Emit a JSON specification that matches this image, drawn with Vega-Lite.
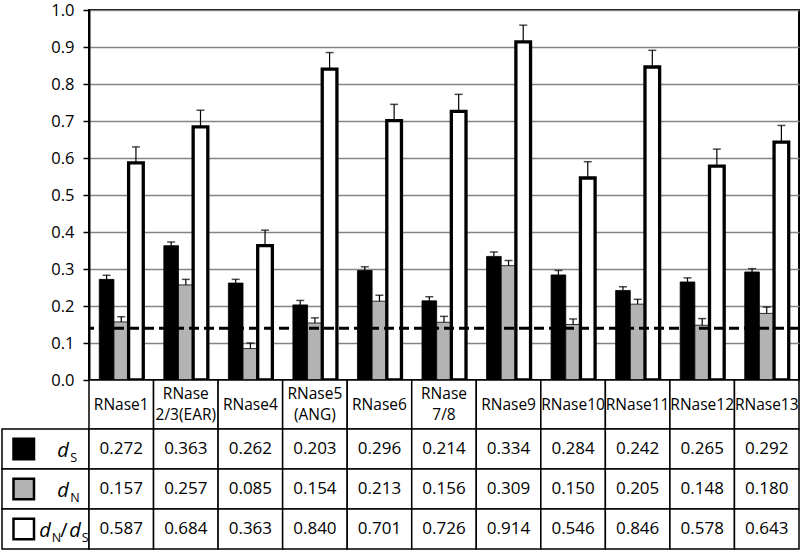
{
  "$schema": "https://vega.github.io/schema/vega-lite/v6.json",
  "padding": {"left": 1, "top": 1, "right": 2, "bottom": 2},
  "columns": 2,
  "spacing": 0,
  "bounds": "flush",
  "align": "each",
  "config": {"view": {"stroke": null}, "font": "Open Sans"},
  "datasets": {
    "vals": [
      {"cat": "RNase1", "ser": "dS", "value": 0.272, "hi": 0.283},
      {"cat": "RNase1", "ser": "dN", "value": 0.157, "hi": 0.171},
      {"cat": "RNase1", "ser": "dN/dS", "value": 0.587, "hi": 0.630},
      {"cat": "RNase\n2/3(EAR)", "ser": "dS", "value": 0.363, "hi": 0.373},
      {"cat": "RNase\n2/3(EAR)", "ser": "dN", "value": 0.257, "hi": 0.272},
      {"cat": "RNase\n2/3(EAR)", "ser": "dN/dS", "value": 0.684, "hi": 0.729},
      {"cat": "RNase4", "ser": "dS", "value": 0.262, "hi": 0.272},
      {"cat": "RNase4", "ser": "dN", "value": 0.085, "hi": 0.100},
      {"cat": "RNase4", "ser": "dN/dS", "value": 0.363, "hi": 0.405},
      {"cat": "RNase5\n(ANG)", "ser": "dS", "value": 0.203, "hi": 0.215},
      {"cat": "RNase5\n(ANG)", "ser": "dN", "value": 0.154, "hi": 0.168},
      {"cat": "RNase5\n(ANG)", "ser": "dN/dS", "value": 0.840, "hi": 0.885},
      {"cat": "RNase6", "ser": "dS", "value": 0.296, "hi": 0.306},
      {"cat": "RNase6", "ser": "dN", "value": 0.213, "hi": 0.229},
      {"cat": "RNase6", "ser": "dN/dS", "value": 0.701, "hi": 0.745},
      {"cat": "RNase\n7/8", "ser": "dS", "value": 0.214, "hi": 0.225},
      {"cat": "RNase\n7/8", "ser": "dN", "value": 0.156, "hi": 0.172},
      {"cat": "RNase\n7/8", "ser": "dN/dS", "value": 0.726, "hi": 0.772},
      {"cat": "RNase9", "ser": "dS", "value": 0.334, "hi": 0.346},
      {"cat": "RNase9", "ser": "dN", "value": 0.309, "hi": 0.323},
      {"cat": "RNase9", "ser": "dN/dS", "value": 0.914, "hi": 0.959},
      {"cat": "RNase10", "ser": "dS", "value": 0.284, "hi": 0.296},
      {"cat": "RNase10", "ser": "dN", "value": 0.150, "hi": 0.165},
      {"cat": "RNase10", "ser": "dN/dS", "value": 0.546, "hi": 0.590},
      {"cat": "RNase11", "ser": "dS", "value": 0.242, "hi": 0.252},
      {"cat": "RNase11", "ser": "dN", "value": 0.205, "hi": 0.218},
      {"cat": "RNase11", "ser": "dN/dS", "value": 0.846, "hi": 0.891},
      {"cat": "RNase12", "ser": "dS", "value": 0.265, "hi": 0.276},
      {"cat": "RNase12", "ser": "dN", "value": 0.148, "hi": 0.166},
      {"cat": "RNase12", "ser": "dN/dS", "value": 0.578, "hi": 0.624},
      {"cat": "RNase13", "ser": "dS", "value": 0.292, "hi": 0.301},
      {"cat": "RNase13", "ser": "dN", "value": 0.180, "hi": 0.197},
      {"cat": "RNase13", "ser": "dN/dS", "value": 0.643, "hi": 0.688}
    ],
    "cats": [
      {"cat": "RNase1"}, {"cat": "RNase\n2/3(EAR)"}, {"cat": "RNase4"}, {"cat": "RNase5\n(ANG)"},
      {"cat": "RNase6"}, {"cat": "RNase\n7/8"}, {"cat": "RNase9"}, {"cat": "RNase10"},
      {"cat": "RNase11"}, {"cat": "RNase12"}, {"cat": "RNase13"}
    ],
    "rows": [{"ser": "dS"}, {"ser": "dN"}, {"ser": "dN/dS"}],
    "threshold": [{"v": 0.14}]
  },
  "concat": [
    {
      "width": 87, "height": 370,
      "data": {"values": [{}]},
      "mark": {"type": "text", "text": ""},
      "encoding": {}
    },
    {
      "width": 710, "height": 370,
      "view": {"stroke": "black", "strokeWidth": 2},
      "layer": [
        {
          "data": {"name": "vals"},
          "mark": {"type": "bar", "stroke": "black"},
          "encoding": {
            "x": {"field": "cat", "type": "nominal", "sort": null, "scale": {"paddingInner": 0, "paddingOuter": 0}, "axis": null},
            "xOffset": {"field": "ser", "type": "nominal", "sort": ["dS", "dN", "dN/dS"], "scale": {"paddingInner": 0, "paddingOuter": 0.7}},
            "y": {"field": "value", "type": "quantitative", "scale": {"domain": [0, 1], "nice": false},
              "axis": {"values": [0, 0.1, 0.2, 0.3, 0.4, 0.5, 0.6, 0.7, 0.8, 0.9, 1.0], "labelOverlap": false, "format": ".1f", "title": null,
                "grid": true, "gridColor": "#858585", "gridWidth": 1.5, "domainColor": "black", "domainWidth": 2,
                "tickColor": "black", "tickWidth": 1.5, "tickSize": 6, "labelFontSize": 16.5, "labelColor": "black", "labelPadding": 9}},
            "fill": {"field": "ser", "type": "nominal", "scale": {"domain": ["dS", "dN", "dN/dS"], "range": ["black", "#b3b3b3", "white"]}, "legend": null},
            "strokeWidth": {"condition": {"test": "datum.ser === 'dN/dS'", "value": 3.3}, "value": 0.8}
          }
        },
        {
          "data": {"name": "vals"},
          "mark": {"type": "rule", "color": "black", "strokeWidth": 1.2},
          "encoding": {
            "x": {"field": "cat", "type": "nominal", "sort": null},
            "xOffset": {"field": "ser", "type": "nominal", "sort": ["dS", "dN", "dN/dS"]},
            "y": {"field": "value", "type": "quantitative",
              "axis": {"values": [0, 0.1, 0.2, 0.3, 0.4, 0.5, 0.6, 0.7, 0.8, 0.9, 1.0], "labelOverlap": false, "format": ".1f", "title": null,
                "grid": true, "gridColor": "#858585", "gridWidth": 1.5, "domainColor": "black", "domainWidth": 2,
                "tickColor": "black", "tickWidth": 1.5, "tickSize": 6, "labelFontSize": 16.5, "labelColor": "black", "labelPadding": 9}},
            "y2": {"field": "hi"}
          }
        },
        {
          "data": {"name": "vals"},
          "mark": {"type": "tick", "orient": "horizontal", "size": 8, "thickness": 1.5, "color": "black"},
          "encoding": {
            "x": {"field": "cat", "type": "nominal", "sort": null},
            "xOffset": {"field": "ser", "type": "nominal", "sort": ["dS", "dN", "dN/dS"]},
            "y": {"field": "hi", "type": "quantitative",
              "axis": {"values": [0, 0.1, 0.2, 0.3, 0.4, 0.5, 0.6, 0.7, 0.8, 0.9, 1.0], "labelOverlap": false, "format": ".1f", "title": null,
                "grid": true, "gridColor": "#858585", "gridWidth": 1.5, "domainColor": "black", "domainWidth": 2,
                "tickColor": "black", "tickWidth": 1.5, "tickSize": 6, "labelFontSize": 16.5, "labelColor": "black", "labelPadding": 9}}
          }
        },
        {
          "data": {"name": "threshold"},
          "mark": {"type": "rule", "color": "black", "strokeWidth": 3, "strokeDash": [10, 5]},
          "encoding": {"y": {"field": "v", "type": "quantitative",
              "axis": {"values": [0, 0.1, 0.2, 0.3, 0.4, 0.5, 0.6, 0.7, 0.8, 0.9, 1.0], "labelOverlap": false, "format": ".1f", "title": null,
                "grid": true, "gridColor": "#858585", "gridWidth": 1.5, "domainColor": "black", "domainWidth": 2,
                "tickColor": "black", "tickWidth": 1.5, "tickSize": 6, "labelFontSize": 16.5, "labelColor": "black", "labelPadding": 9}}}
        }
      ]
    },
    {
      "width": 87, "height": 49,
      "data": {"values": [{}]},
      "mark": {"type": "text", "text": ""},
      "encoding": {}
    },
    {
      "width": 710, "height": 49,
      "data": {"name": "cats"},
      "encoding": {"x": {"field": "cat", "type": "nominal", "sort": null, "scale": {"paddingInner": 0, "paddingOuter": 0}, "axis": null}},
      "layer": [
        {"mark": {"type": "rect", "fill": "white", "stroke": "black", "strokeWidth": 1.5}},
        {"transform": [{"filter": "indexof(datum.cat, '\\n') < 0"}],
         "mark": {"type": "text", "fontSize": 15.5, "baseline": "middle", "color": "black"},
         "encoding": {"text": {"field": "cat"}}},
        {"transform": [{"filter": "indexof(datum.cat, '\\n') >= 0"}],
         "mark": {"type": "text", "fontSize": 15.5, "lineBreak": "\n", "lineHeight": 21, "baseline": "middle", "dy": -10.5, "color": "black"},
         "encoding": {"text": {"field": "cat"}}}
      ]
    },
    {
      "width": 87, "height": 120,
      "data": {"name": "rows"},
      "encoding": {"y": {"field": "ser", "type": "nominal", "sort": ["dS", "dN", "dN/dS"], "scale": {"paddingInner": 0, "paddingOuter": 0}, "axis": null}},
      "layer": [
        {"mark": {"type": "rect", "fill": "white", "stroke": "black", "strokeWidth": 1.5}},
        {"mark": {"type": "point", "shape": "square", "size": 420, "filled": true, "stroke": "black", "strokeWidth": 2.5, "opacity": 1},
         "encoding": {
           "x": {"datum": "swatch", "type": "nominal", "scale": {"domain": ["swatch", "label"], "paddingInner": 0, "paddingOuter": 0}, "axis": null},
           "fill": {"field": "ser", "type": "nominal", "scale": {"domain": ["dS", "dN", "dN/dS"], "range": ["black", "#b3b3b3", "white"]}, "legend": null}
         }},
        {"transform": [{"filter": "datum.ser !== 'dN/dS'"}],
         "mark": {"type": "text", "text": "d", "fontStyle": "italic", "fontSize": 20, "align": "left", "baseline": "alphabetic", "dx": -10, "dy": 8, "color": "black"},
         "encoding": {"x": {"datum": "label", "type": "nominal"}}},
        {"transform": [{"filter": "datum.ser === 'dS'"}],
         "mark": {"type": "text", "text": "S", "fontSize": 12.5, "align": "left", "baseline": "alphabetic", "dx": 3, "dy": 12.5, "color": "black"},
         "encoding": {"x": {"datum": "label", "type": "nominal"}}},
        {"transform": [{"filter": "datum.ser === 'dN'"}],
         "mark": {"type": "text", "text": "N", "fontSize": 12.5, "align": "left", "baseline": "alphabetic", "dx": 3, "dy": 12.5, "color": "black"},
         "encoding": {"x": {"datum": "label", "type": "nominal"}}},
        {"transform": [{"filter": "datum.ser === 'dN/dS'"}],
         "mark": {"type": "text", "text": "d", "fontStyle": "italic", "fontSize": 20, "align": "left", "baseline": "alphabetic", "dx": -28, "dy": 8, "color": "black"},
         "encoding": {"x": {"datum": "label", "type": "nominal"}}},
        {"transform": [{"filter": "datum.ser === 'dN/dS'"}],
         "mark": {"type": "text", "text": "N", "fontSize": 12.5, "align": "left", "baseline": "alphabetic", "dx": -15.5, "dy": 12.5, "color": "black"},
         "encoding": {"x": {"datum": "label", "type": "nominal"}}},
        {"transform": [{"filter": "datum.ser === 'dN/dS'"}],
         "mark": {"type": "text", "text": "/", "fontSize": 20, "align": "left", "baseline": "alphabetic", "dx": -7, "dy": 8, "color": "black"},
         "encoding": {"x": {"datum": "label", "type": "nominal"}}},
        {"transform": [{"filter": "datum.ser === 'dN/dS'"}],
         "mark": {"type": "text", "text": "d", "fontStyle": "italic", "fontSize": 20, "align": "left", "baseline": "alphabetic", "dx": 2, "dy": 8, "color": "black"},
         "encoding": {"x": {"datum": "label", "type": "nominal"}}},
        {"transform": [{"filter": "datum.ser === 'dN/dS'"}],
         "mark": {"type": "text", "text": "S", "fontSize": 12.5, "align": "left", "baseline": "alphabetic", "dx": 14.5, "dy": 12.5, "color": "black"},
         "encoding": {"x": {"datum": "label", "type": "nominal"}}}
      ]
    },
    {
      "width": 710, "height": 120,
      "data": {"name": "vals"},
      "encoding": {
        "x": {"field": "cat", "type": "nominal", "sort": null, "scale": {"paddingInner": 0, "paddingOuter": 0}, "axis": null},
        "y": {"field": "ser", "type": "nominal", "sort": ["dS", "dN", "dN/dS"], "scale": {"paddingInner": 0, "paddingOuter": 0}, "axis": null}
      },
      "layer": [
        {"mark": {"type": "rect", "fill": "white", "stroke": "black", "strokeWidth": 1.5}},
        {"mark": {"type": "text", "fontSize": 17, "baseline": "middle", "color": "black"},
         "encoding": {"text": {"field": "value", "type": "quantitative", "format": ".3f"}}}
      ]
    }
  ]
}
